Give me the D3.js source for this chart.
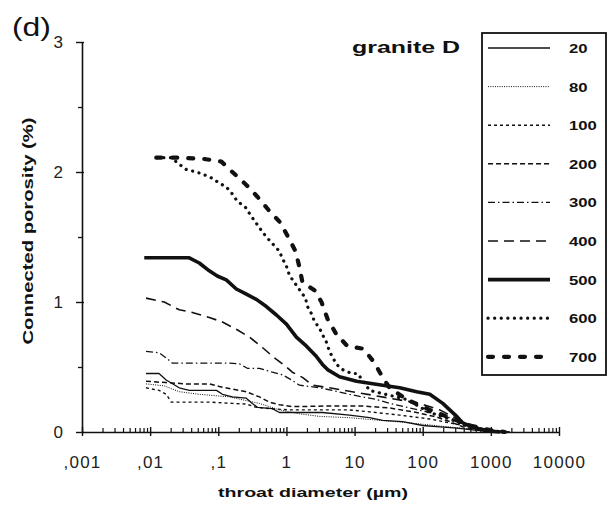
<!DOCTYPE html>
<html>
<head>
<meta charset="utf-8">
<script src="https://cdnjs.cloudflare.com/ajax/libs/d3/7.8.5/d3.min.js"></script>
<style>
body { margin: 0; background: #fff; }
svg { display: block; font-family: "Liberation Sans", Arial, Helvetica, sans-serif; }
</style>
</head>
<body>
<svg id="chart" width="616" height="507"></svg>
<script>
// series (temperature, °C) and values
var seriesNames = ["20", "80", "100", "200", "300", "400", "500", "600", "700"];

var d20 = [0.0087, 0.0135, 0.0172, 0.0267, 0.0375, 0.094, 0.115, 0.161, 0.258, 0.316, 0.375, 0.622, 0.789, 1.55, 3.38, 8.43, 16.6, 25.8, 50.8, 100, 178, 316, 582, 1145, 1900];
var p20 = [0.45, 0.45, 0.40, 0.34, 0.32, 0.32, 0.29, 0.27, 0.26, 0.22, 0.19, 0.18, 0.15, 0.15, 0.15, 0.13, 0.11, 0.09, 0.08, 0.05, 0.04, 0.03, 0.015, 0.008, 0];

var d80 = [0.0087, 0.0161, 0.0267, 0.0526, 0.145, 0.401, 0.789, 1.55, 3.05, 8.43, 23.3, 64.4, 178, 491, 1145, 1900];
var p80 = [0.37, 0.355, 0.31, 0.29, 0.27, 0.22, 0.17, 0.14, 0.12, 0.11, 0.09, 0.07, 0.046, 0.023, 0.008, 0];

var d100 = [0.0087, 0.0135, 0.0172, 0.0204, 0.0338, 0.0738, 0.161, 0.258, 0.362, 0.562, 1.11, 3.05, 8.43, 16.6, 45.9, 127, 249, 491, 966, 1600];
var p100 = [0.34, 0.32, 0.29, 0.23, 0.23, 0.23, 0.22, 0.215, 0.19, 0.18, 0.17, 0.17, 0.17, 0.155, 0.13, 0.10, 0.07, 0.04, 0.015, 0];

var d200 = [0.0087, 0.0172, 0.0338, 0.0738, 0.1035, 0.161, 0.258, 0.401, 0.562, 0.789, 1.22, 4.29, 13.1, 32.7, 81.6, 160, 249, 387, 620, 1100];
var p200 = [0.39, 0.38, 0.37, 0.37, 0.35, 0.33, 0.31, 0.27, 0.23, 0.21, 0.195, 0.20, 0.20, 0.185, 0.15, 0.115, 0.08, 0.04, 0.015, 0];

var d300 = [0.0087, 0.0135, 0.0172, 0.0211, 0.0738, 0.145, 0.204, 0.267, 0.401, 0.622, 0.873, 1.19, 1.55, 2.18, 3.05, 4.75, 8.43, 13.1, 21.1, 32.7, 64.4, 127, 249, 491, 966, 1600];
var p300 = [0.62, 0.61, 0.57, 0.53, 0.53, 0.53, 0.525, 0.49, 0.49, 0.46, 0.44, 0.40, 0.36, 0.35, 0.34, 0.32, 0.29, 0.27, 0.25, 0.22, 0.185, 0.15, 0.11, 0.054, 0.015, 0];

var d400 = [0.0087, 0.0161, 0.0267, 0.0415, 0.0738, 0.111, 0.184, 0.286, 0.444, 0.667, 1.0, 1.22, 1.72, 2.41, 4.29, 11.9, 32.7, 90.4, 178, 350, 689, 1355];
var p400 = [1.03, 1.0, 0.94, 0.92, 0.88, 0.85, 0.79, 0.73, 0.65, 0.57, 0.50, 0.46, 0.42, 0.36, 0.34, 0.30, 0.26, 0.22, 0.17, 0.09, 0.03, 0];

var d500 = [0.0082, 0.0375, 0.0526, 0.0738, 0.0966, 0.131, 0.184, 0.258, 0.362, 0.508, 0.713, 1.0, 1.40, 1.97, 2.76, 3.38, 4.01, 6.01, 10.7, 25.8, 45.9, 81.6, 127, 197, 249, 316, 387, 526, 762, 966, 1355];
var p500 = [1.34, 1.34, 1.30, 1.24, 1.20, 1.17, 1.10, 1.06, 1.02, 0.965, 0.90, 0.83, 0.73, 0.66, 0.58, 0.52, 0.48, 0.425, 0.39, 0.36, 0.34, 0.31, 0.29, 0.22, 0.17, 0.12, 0.07, 0.04, 0.015, 0.008, 0];

var d600 = [0.0127, 0.0204, 0.0267, 0.0338, 0.0474, 0.0582, 0.0789, 0.1035, 0.131, 0.161, 0.19, 0.249, 0.305, 0.362, 0.429, 0.508, 0.622, 0.789, 0.873, 1.0, 1.107, 1.31, 1.9, 2.04, 2.33, 2.58, 3.05, 3.38, 3.87, 4.29, 5.43, 6.66, 9.03, 11.1, 16.6, 58.2, 127, 249, 491, 966, 1600];
var p600 = [2.11, 2.11, 2.06, 2.02, 2.0, 1.985, 1.955, 1.915, 1.885, 1.83, 1.775, 1.73, 1.66, 1.605, 1.55, 1.50, 1.45, 1.39, 1.335, 1.275, 1.205, 1.15, 1.03, 0.965, 0.91, 0.85, 0.80, 0.75, 0.69, 0.62, 0.52, 0.48, 0.45, 0.45, 0.32, 0.25, 0.15, 0.10, 0.04, 0.01, 0];

var d700 = [0.0123, 0.0296, 0.0622, 0.111, 0.161, 0.258, 0.375, 0.562, 0.817, 1.035, 1.36, 1.55, 1.72, 2.58, 3.27, 4.01, 5.43, 7.89, 13.6, 19.7, 25.8, 32.7, 58.2, 127, 249, 491, 966, 1600];
var p700 = [2.11, 2.11, 2.10, 2.08, 2.0, 1.90, 1.81, 1.70, 1.61, 1.51, 1.39, 1.27, 1.15, 1.09, 1.0, 0.87, 0.75, 0.66, 0.64, 0.53, 0.42, 0.34, 0.25, 0.17, 0.11, 0.05, 0.015, 0];

var xTicks = [0.001, 0.01, 0.1, 1, 10, 100, 1000, 10000];
var xTickLabels = [",001", ",01", ",1", "1", "10", "100", "1000", "10000"];
var yTicks = [0, 1, 2, 3];
var yMinor = [0.5, 1.5, 2.5];

var diam = [d20, d80, d100, d200, d300, d400, d500, d600, d700];
var poro = [p20, p80, p100, p200, p300, p400, p500, p600, p700];

// how each curve is drawn
var styles = {
  "20":  {w: 1.3, dash: null, cap: "butt"},
  "80":  {w: 1.0, dash: "1,1.3", cap: "butt"},
  "100": {w: 1.4, dash: "3,3", cap: "butt"},
  "200": {w: 1.5, dash: "5,3", cap: "butt"},
  "300": {w: 1.3, dash: "7,3,1.5,3", cap: "butt"},
  "400": {w: 1.6, dash: "10,6", cap: "butt"},
  "500": {w: 3.6, dash: null, cap: "butt"},
  "600": {w: 3.2, dash: "0.1,6.5", cap: "round"},
  "700": {w: 4.2, dash: "5,11", cap: "round"}
};

var svg = d3.select("#chart");

var x = d3.scaleLog().domain([0.001, 10000]).range([82, 559]);
var y = d3.scaleLinear().domain([0, 3]).range([432, 42]);

// x axis: decades plus upward minor ticks
var minorX = [];
for (var e = -3; e < 4; e++) {
  for (var k = 2; k <= 9; k++) minorX.push(k * Math.pow(10, e));
}

svg.append("g")
  .attr("transform", "translate(0,432)")
  .call(d3.axisBottom(x).tickValues(minorX).tickSize(-4).tickSizeOuter(0).tickFormat(""))
  .call(g => g.select(".domain").remove())
  .selectAll("line").attr("stroke", "#111").attr("stroke-width", 1.2);

svg.append("g")
  .attr("transform", "translate(0,432)")
  .call(d3.axisBottom(x).tickValues(xTicks).tickSize(4).tickSizeOuter(0).tickPadding(20)
    .tickFormat((d, i) => xTickLabels[i]))
  .call(g => g.select(".domain").attr("stroke", "#111").attr("stroke-width", 1.6))
  .call(g => g.selectAll(".tick line").attr("y1", -5).attr("stroke", "#111").attr("stroke-width", 1.4))
  .call(g => g.selectAll("text").attr("font-size", 17).attr("fill", "#222").attr("letter-spacing", 1.2));

// y axis
svg.append("g")
  .attr("transform", "translate(82,0)")
  .call(d3.axisLeft(y).tickValues(yMinor).tickSize(4).tickSizeOuter(0).tickFormat(""))
  .call(g => g.select(".domain").remove())
  .selectAll("line").attr("stroke", "#111").attr("stroke-width", 1.3);

svg.append("g")
  .attr("transform", "translate(82,0)")
  .call(d3.axisLeft(y).tickValues(yTicks).tickSize(6).tickSizeOuter(0).tickPadding(13)
    .tickFormat(d3.format("d")))
  .call(g => g.select(".domain").attr("stroke", "#111").attr("stroke-width", 1.6))
  .call(g => g.selectAll(".tick line").attr("x1", 2).attr("stroke", "#111").attr("stroke-width", 1.4))
  .call(g => g.selectAll("text").attr("font-size", 17).attr("fill", "#222"));

// curves
var line = d3.line().x(d => x(d[0])).y(d => y(d[1]));

seriesNames.forEach(function(name, i) {
  var st = styles[name];
  svg.append("path")
    .datum(d3.zip(diam[i], poro[i]))
    .attr("d", line)
    .attr("fill", "none")
    .attr("stroke", "#111")
    .attr("stroke-width", st.w)
    .attr("stroke-linecap", st.cap)
    .attr("stroke-linejoin", "round")
    .attr("stroke-dasharray", st.dash);
});

// legend box
var legend = svg.append("g");
legend.append("rect")
  .attr("x", 482).attr("y", 33).attr("width", 124).attr("height", 342)
  .attr("fill", "#fff").attr("stroke", "#111").attr("stroke-width", 1.8);

seriesNames.forEach(function(name, i) {
  var st = styles[name];
  var ly = 48 + i * 38.6;
  legend.append("line")
    .attr("x1", 488).attr("x2", 550).attr("y1", ly).attr("y2", ly)
    .attr("stroke", "#111")
    .attr("stroke-width", st.w)
    .attr("stroke-linecap", st.cap)
    .attr("stroke-dasharray", st.dash);
  legend.append("text")
    .attr("x", 569).attr("y", ly + 5)
    .attr("font-size", 13).attr("font-weight", "bold").attr("fill", "#111")
    .attr("textLength", 9.3 * name.length).attr("lengthAdjust", "spacingAndGlyphs")
    .text(name);
});

// titles
svg.append("text")
  .attr("x", 352).attr("y", 53)
  .attr("font-size", 17).attr("font-weight", "bold").attr("fill", "#111")
  .attr("textLength", 108).attr("lengthAdjust", "spacingAndGlyphs")
  .text("granite D");

svg.append("text")
  .attr("x", 12).attr("y", 36)
  .attr("font-size", 25).attr("fill", "#111")
  .attr("textLength", 39).attr("lengthAdjust", "spacingAndGlyphs")
  .text("(d)");

svg.append("text")
  .attr("x", 218).attr("y", 497)
  .attr("font-size", 13).attr("font-weight", "bold").attr("fill", "#111")
  .attr("textLength", 190).attr("lengthAdjust", "spacingAndGlyphs")
  .text("throat diameter (µm)");

svg.append("text")
  .attr("transform", "translate(33,231) rotate(-90)")
  .attr("text-anchor", "middle")
  .attr("font-size", 14).attr("font-weight", "bold").attr("fill", "#111")
  .attr("textLength", 227).attr("lengthAdjust", "spacingAndGlyphs")
  .text("Connected porosity (%)");
</script>
</body>
</html>
